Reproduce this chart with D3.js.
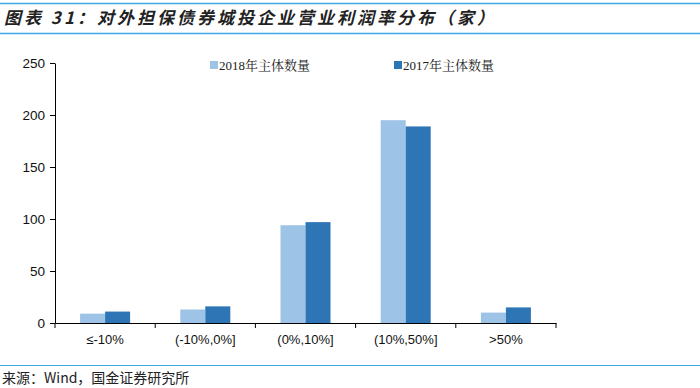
<!DOCTYPE html>
<html><head><meta charset="utf-8">
<script src="https://cdn.jsdelivr.net/npm/d3@7"></script>
<style>body{margin:0;background:#fff}svg{display:block}</style>
</head><body>
<svg id="c" width="700" height="388"></svg>
<script>
const categories = ["≤-10%", "(-10%,0%]", "(0%,10%]", "(10%,50%]", ">50%"];
const series2018 = [9, 13, 94, 195, 10];
const series2017 = [11, 16, 97, 189, 15];
const seriesNames = ["2018年主体数量", "2017年主体数量"];
const yTicks = [0, 50, 100, 150, 200, 250];
const colors = ["#9DC3E6", "#2E75B6"];

const svg = d3.select("#c");
const cjk = "'Noto Sans CJK SC', sans-serif";
const lineCol = "#3FA9E8";

svg.append("line").attr("x1",0).attr("x2",700).attr("y1",3.5).attr("y2",3.5).attr("stroke",lineCol).attr("stroke-width",1.5);
svg.append("line").attr("x1",0).attr("x2",700).attr("y1",33.5).attr("y2",33.5).attr("stroke",lineCol).attr("stroke-width",1.5);
svg.append("text").attr("x",4).attr("y",24).attr("font-family",cjk).attr("font-size",17).attr("font-weight","bold")
  .attr("font-style","italic").attr("letter-spacing",3).attr("fill","#222").text("图表 31：对外担保债券城投企业营业利润率分布（家）");

const x = d3.scaleBand().domain(categories).range([55, 556]);
const y = d3.scaleLinear().domain([0, 250]).range([323, 63]);
const inner = d3.scaleBand().domain([0,1]).range([0, 50]);

const yAxis = svg.append("g").attr("transform","translate(55,0)")
  .call(d3.axisLeft(y).tickValues(yTicks).tickSize(5).tickSizeOuter(0));
yAxis.select(".domain").attr("stroke","#000");
yAxis.selectAll("line").attr("stroke","#000");
yAxis.selectAll("text").attr("font-family","Liberation Sans, Arial, sans-serif").attr("font-size",13.5).attr("fill","#111").attr("dx",-2);

const groups = svg.append("g").selectAll("g").data(categories).join("g")
  .attr("transform", d => `translate(${x(d) + x.bandwidth()/2 - 25},0)`);
[series2018, series2017].forEach((vals, si) => {
  groups.append("rect")
    .attr("x", inner(si))
    .attr("width", inner.bandwidth())
    .attr("y", (d,i) => y(vals[i]))
    .attr("height", (d,i) => y(0) - y(vals[i]))
    .attr("fill", colors[si]);
});

const xAxis = svg.append("g").attr("transform","translate(0,323)")
  .call(d3.axisBottom(x).tickSize(0).tickPadding(12));
xAxis.select(".domain").attr("stroke","#000").attr("stroke-width",1.2);
xAxis.selectAll("text").attr("font-family","Liberation Sans, Arial, sans-serif").attr("font-size",13).attr("fill","#111");
const edges = categories.map(c => x(c)).concat([x.range()[1]]);
svg.append("g").selectAll("line").data(edges).join("line")
  .attr("x1", d => d).attr("x2", d => d).attr("y1",323).attr("y2",328).attr("stroke","#000");

const legendX = [210, 394];
seriesNames.forEach((n, i) => {
  svg.append("rect").attr("x", legendX[i]).attr("y", 61).attr("width", 8).attr("height", 8).attr("fill", colors[i]);
  svg.append("text").attr("x", legendX[i] + 9).attr("y", 70).attr("font-family","'Liberation Serif', 'Noto Serif CJK SC', serif")
    .attr("font-size", 13).attr("fill","#222").text(n);
});

svg.append("line").attr("x1",0).attr("x2",700).attr("y1",365.5).attr("y2",365.5).attr("stroke",lineCol).attr("stroke-width",1);
svg.append("text").attr("x",2).attr("y",383).attr("font-family",cjk).attr("font-size",14).attr("fill","#222").text("来源：Wind，国金证券研究所");
</script>
</body></html>
